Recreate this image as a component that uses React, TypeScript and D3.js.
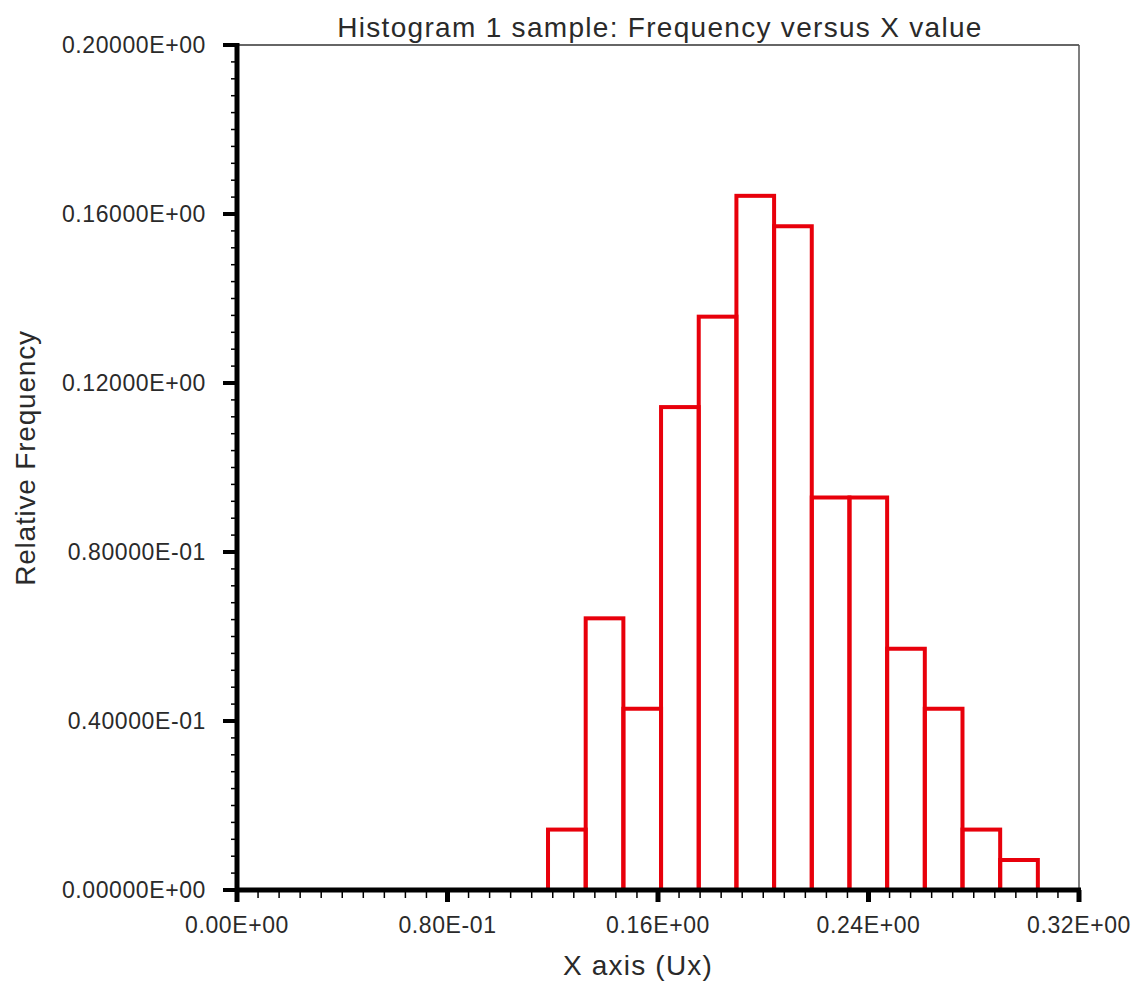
import React from "react";
import { scaleLinear, range } from "d3";

// bin edges come from the sample's min/max, 13 equal bins
const binStart = 0.1182;
const binWidth = 0.01432;
// relative frequency per bin (counts out of 140 samples)
const frequencies = [
  0.0143, 0.0643, 0.0429, 0.1143, 0.1357, 0.1643, 0.1571, 0.0929, 0.0929,
  0.0571, 0.0429, 0.0143, 0.0071
];

const xTicks = [0, 0.08, 0.16, 0.24, 0.32];
const xTickLabels = ["0.00E+00", "0.80E-01", "0.16E+00", "0.24E+00", "0.32E+00"];
const yTicks = [0, 0.04, 0.08, 0.12, 0.16, 0.2];
const yTickLabels = [
  "0.00000E+00",
  "0.40000E-01",
  "0.80000E-01",
  "0.12000E+00",
  "0.16000E+00",
  "0.20000E+00"
];

const title = "Histogram 1 sample: Frequency versus X value";
const xTitle = "X axis (Ux)";
const yTitle = "Relative Frequency";

export default function App() {
  const width = 1136,
    height = 981;
  const margin = { top: 45, right: 57, bottom: 91, left: 237 };
  const innerWidth = width - margin.left - margin.right;
  const innerHeight = height - margin.top - margin.bottom;

  const xScale = scaleLinear().domain([0, 0.32]).range([0, innerWidth]);
  const yScale = scaleLinear().domain([0, 0.2]).range([innerHeight, 0]);

  const xMinor = range(0, 0.3201, 0.008);
  const yMinor = range(0, 0.2001, 0.004);
  const font = "'Liberation Sans', Arial, sans-serif";
  const textColor = "#2a2a2a";

  return (
    <svg
      width={width}
      height={height}
      style={{ position: "absolute", left: 0, top: 0, background: "#fff" }}
    >
      <g transform={`translate(${margin.left}, ${margin.top})`}>
        {/* frame top/right */}
        <line x1={0} x2={innerWidth} y1={0} y2={0} stroke="#333" strokeWidth={1.5} />
        <line
          x1={innerWidth}
          x2={innerWidth}
          y1={0}
          y2={innerHeight}
          stroke="#555"
          strokeWidth={1.5}
        />

        {/* bars */}
        {frequencies.map((f, i) => {
          const x0 = xScale(binStart + i * binWidth);
          const x1 = xScale(binStart + (i + 1) * binWidth);
          return (
            <rect
              key={i}
              x={x0}
              y={yScale(f)}
              width={x1 - x0}
              height={innerHeight - yScale(f)}
              fill="none"
              stroke="#e8000b"
              strokeWidth={4}
            />
          );
        })}

        {/* y axis */}
        {yMinor.map((v, i) => (
          <line
            key={i}
            x1={-6}
            x2={0}
            y1={yScale(v)}
            y2={yScale(v)}
            stroke="#000"
            strokeWidth={1.5}
          />
        ))}
        {yTicks.map((v, i) => (
          <g key={i}>
            <line
              x1={-14}
              x2={0}
              y1={yScale(v)}
              y2={yScale(v)}
              stroke="#000"
              strokeWidth={4}
            />
            <text
              x={-31}
              y={yScale(v)}
              dy="0.36em"
              textAnchor="end"
              fontFamily={font}
              fontSize={23}
              letterSpacing={0.6}
              fill={textColor}
            >
              {yTickLabels[i]}
            </text>
          </g>
        ))}
        <line x1={0} x2={0} y1={-2} y2={innerHeight + 2} stroke="#000" strokeWidth={5} />

        {/* x axis */}
        {xMinor.map((v, i) => (
          <line
            key={i}
            x1={xScale(v)}
            x2={xScale(v)}
            y1={innerHeight}
            y2={innerHeight + 8}
            stroke="#000"
            strokeWidth={1.5}
          />
        ))}
        {xTicks.map((v, i) => (
          <g key={i}>
            <line
              x1={xScale(v)}
              x2={xScale(v)}
              y1={innerHeight}
              y2={innerHeight + 12}
              stroke="#000"
              strokeWidth={5}
            />
            <text
              x={xScale(v)}
              y={innerHeight + 43}
              textAnchor="middle"
              fontFamily={font}
              fontSize={23}
              letterSpacing={0.6}
              fill={textColor}
            >
              {xTickLabels[i]}
            </text>
          </g>
        ))}
        <line x1={-2} x2={innerWidth + 2} y1={innerHeight} y2={innerHeight} stroke="#000" strokeWidth={5} />
      </g>

      <text
        x={660}
        y={37}
        textAnchor="middle"
        fontFamily={font}
        fontSize={28}
        letterSpacing={1.3}
        fill={textColor}
      >
        {title}
      </text>
      <text
        x={638}
        y={975}
        textAnchor="middle"
        fontFamily={font}
        fontSize={28}
        letterSpacing={1.2}
        fill={textColor}
      >
        {xTitle}
      </text>
      <text
        transform={`translate(35, 458) rotate(-90)`}
        textAnchor="middle"
        fontFamily={font}
        fontSize={28}
        letterSpacing={0.8}
        fill={textColor}
      >
        {yTitle}
      </text>
    </svg>
  );
}
